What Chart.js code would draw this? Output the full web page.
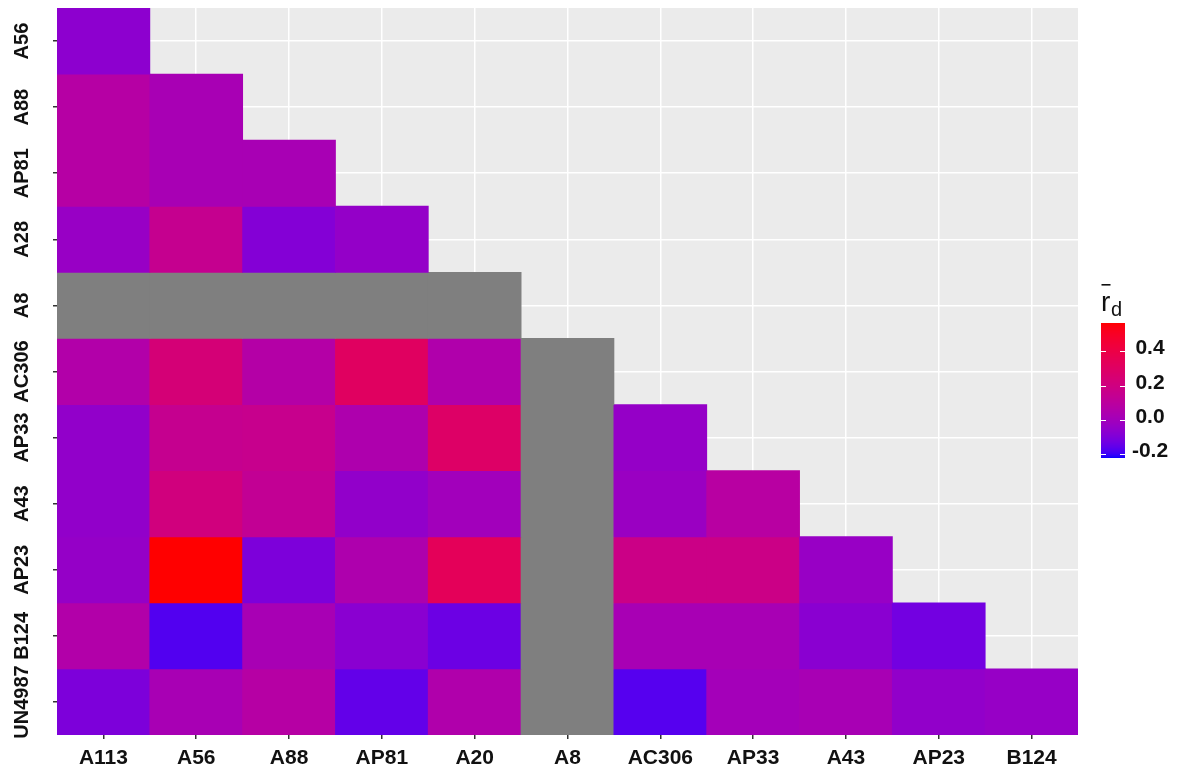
<!DOCTYPE html>
<html>
<head>
<meta charset="utf-8">
<script src="https://cdn.jsdelivr.net/npm/chart.js@4/dist/chart.umd.min.js"></script>
<style>
  html, body { margin: 0; padding: 0; background: #ffffff; }
  #wrap { width: 1181px; height: 774px; }
</style>
</head>
<body>
<div id="wrap"><canvas id="heat" width="1181" height="774"></canvas></div>
<script>
// Column (x) and row (y) categories of the lower-triangular matrix
const xLabels = ['A113', 'A56', 'A88', 'AP81', 'A20', 'A8', 'AC306', 'AP33', 'A43', 'AP23', 'B124'];
const yLabels = ['A56', 'A88', 'AP81', 'A28', 'A8', 'AC306', 'AP33', 'A43', 'AP23', 'B124', 'UN4987'];

// Mean index of association per pair; null = not available (drawn grey)
const rowA56    = [-0.065];
const rowA88    = [0.077, 0.022];
const rowAP81   = [0.077, 0.022, 0.022];
const rowA28    = [-0.033, 0.147, -0.088, -0.045];
const rowA8     = [null, null, null, null, null];
const rowAC306  = [0.061, 0.234, 0.069, 0.312, 0.053, null];
const rowAP33   = [-0.049, 0.147, 0.155, 0.045, 0.289, null, -0.041];
const rowA43    = [-0.049, 0.210, 0.132, -0.049, -0.002, null, -0.025, 0.085];
const rowAP23   = [-0.041, 0.564, -0.104, 0.045, 0.336, null, 0.180, 0.180, -0.033];
const rowB124   = [0.061, -0.175, 0.022, -0.073, -0.136, null, 0.022, 0.022, -0.073, -0.124];
const rowUN4987 = [-0.104, 0.022, 0.077, -0.151, 0.053, null, -0.170, 0.006, 0.022, -0.049, -0.037];

const rows = [rowA56, rowA88, rowAP81, rowA28, rowA8, rowAC306, rowAP33, rowA43, rowAP23, rowB124, rowUN4987];

// Colour bar limits and ticks
const scaleLimits = [-0.222, 0.564];
const legendTicks = [-0.2, 0.0, 0.2, 0.4];
const legendTickLabels = ['-0.2', '0.0', '0.2', '0.4'];

const LOW = [0, 0, 255];
const HIGH = [255, 0, 0];
const NA_COLOR = '#7f7f7f';

// --- Lab colour interpolation (blue -> red) ---
function toLinear(c) { c /= 255; return c <= 0.04045 ? c / 12.92 : Math.pow((c + 0.055) / 1.055, 2.4); }
function toSrgb(c) {
  c = Math.max(0, Math.min(1, c));
  const v = c <= 0.0031308 ? 12.92 * c : 1.055 * Math.pow(c, 1 / 2.4) - 0.055;
  return Math.round(Math.max(0, Math.min(1, v)) * 255);
}
const WX = 0.95047, WY = 1.0, WZ = 1.08883;
function fLab(t) { return t > 0.008856 ? Math.cbrt(t) : 7.787 * t + 16 / 116; }
function fInv(t) { const t3 = t * t * t; return t3 > 0.008856 ? t3 : (t - 16 / 116) / 7.787; }
function rgbToLab(rgb) {
  const r = toLinear(rgb[0]), g = toLinear(rgb[1]), b = toLinear(rgb[2]);
  const X = (0.4124 * r + 0.3576 * g + 0.1805 * b) / WX;
  const Y = (0.2126 * r + 0.7152 * g + 0.0722 * b) / WY;
  const Z = (0.0193 * r + 0.1192 * g + 0.9505 * b) / WZ;
  const fx = fLab(X), fy = fLab(Y), fz = fLab(Z);
  return [116 * fy - 16, 500 * (fx - fy), 200 * (fy - fz)];
}
function labToRgb(lab) {
  const fy = (lab[0] + 16) / 116, fx = fy + lab[1] / 500, fz = fy - lab[2] / 200;
  const X = fInv(fx) * WX, Y = fInv(fy) * WY, Z = fInv(fz) * WZ;
  const r = 3.2406 * X - 1.5372 * Y - 0.4986 * Z;
  const g = -0.9689 * X + 1.8758 * Y + 0.0415 * Z;
  const b = 0.0557 * X - 0.2040 * Y + 1.0570 * Z;
  return [toSrgb(r), toSrgb(g), toSrgb(b)];
}
const LAB_LOW = rgbToLab(LOW), LAB_HIGH = rgbToLab(HIGH);
function fillFor(v) {
  if (v === null || v === undefined) return NA_COLOR;
  let t = (v - scaleLimits[0]) / (scaleLimits[1] - scaleLimits[0]);
  t = Math.max(0, Math.min(1, t));
  const lab = [0, 1, 2].map(k => LAB_LOW[k] + (LAB_HIGH[k] - LAB_LOW[k]) * t);
  const c = labToRgb(lab);
  return 'rgb(' + c[0] + ',' + c[1] + ',' + c[2] + ')';
}

// One floating-bar dataset per row; each bar spans one row band on the y scale
const datasets = rows.map((vals, i) => ({
  label: yLabels[i],
  data: xLabels.map((_, j) => (j < vals.length ? [i - 0.5, i + 0.5] : null)),
  backgroundColor: xLabels.map((_, j) => (j < vals.length ? fillFor(vals[j]) : 'rgba(0,0,0,0)')),
  borderWidth: 0,
  borderSkipped: false,
  grouped: false,
  barPercentage: 1,
  categoryPercentage: 1,
  inflateAmount: 0.4
}));

const FONT = "'Liberation Sans', Arial, sans-serif";

const panelBackground = {
  id: 'panelBackground',
  beforeDraw(chart) {
    const { ctx, chartArea: a } = chart;
    ctx.save();
    ctx.fillStyle = '#ebebeb';
    ctx.fillRect(a.left, a.top, a.right - a.left, a.bottom - a.top);
    ctx.restore();
  }
};

const rowLabels = {
  id: 'rowLabels',
  afterDraw(chart) {
    const { ctx } = chart;
    const ys = chart.scales.y;
    ctx.save();
    ctx.fillStyle = '#111111';
    ctx.font = 'bold 20px ' + FONT;
    ctx.textAlign = 'center';
    ctx.textBaseline = 'middle';
    yLabels.forEach((lab, i) => {
      const y = ys.getPixelForValue(i);
      ctx.save();
      ctx.translate(22, y);
      ctx.rotate(-Math.PI / 2);
      ctx.fillText(lab, 0, 0);
      ctx.restore();
    });
    ctx.restore();
  }
};

const colourBar = {
  id: 'colourBar',
  afterDraw(chart) {
    const { ctx } = chart;
    const left = 1101, right = 1125, top = 323, bottom = 458;
    const [lo, hi] = scaleLimits;
    const yFor = v => top + (hi - v) / (hi - lo) * (bottom - top);
    ctx.save();
    for (let y = top; y < bottom; y++) {
      const v = hi - (y + 0.5 - top) / (bottom - top) * (hi - lo);
      ctx.fillStyle = fillFor(v);
      ctx.fillRect(left, y, right - left, 1);
    }
    ctx.strokeStyle = '#ffffff';
    ctx.lineWidth = 1.2;
    ctx.fillStyle = '#111111';
    ctx.font = 'bold 21px ' + FONT;
    ctx.textAlign = 'center';
    ctx.textBaseline = 'middle';
    legendTicks.forEach((v, k) => {
      const y = Math.round(yFor(v)) + 0.5;
      ctx.beginPath();
      ctx.moveTo(left, y); ctx.lineTo(left + 5, y);
      ctx.moveTo(right - 5, y); ctx.lineTo(right, y);
      ctx.stroke();
      ctx.fillText(legendTickLabels[k], 1150, y - 3);
    });
    // title: r with overline, subscript d
    ctx.fillStyle = '#111111';
    ctx.textAlign = 'left';
    ctx.font = '28px ' + FONT;
    ctx.textBaseline = 'alphabetic';
    ctx.fillText('r', 1101, 311);
    ctx.fillRect(1101.5, 284, 9, 1.6);
    ctx.font = '20px ' + FONT;
    ctx.fillText('d', 1111, 316);
    ctx.restore();
  }
};

new Chart(document.getElementById('heat'), {
  type: 'bar',
  data: { labels: xLabels, datasets },
  options: {
    responsive: false,
    animation: false,
    devicePixelRatio: 1,
    layout: { padding: { top: 8, right: 103, left: 0, bottom: 0 } },
    plugins: { legend: { display: false }, tooltip: { enabled: false } },
    scales: {
      x: {
        type: 'category',
        offset: true,
        border: { display: false },
        grid: { offset: false, color: '#ffffff', lineWidth: 1.5, tickColor: '#333333', tickLength: 4, drawTicks: true },
        ticks: { color: '#111111', font: { family: FONT, weight: 'bold', size: 21 }, padding: 7, maxRotation: 0, minRotation: 0, autoSkip: false },
        afterFit(scale) { scale.height = 39; }
      },
      y: {
        type: 'linear',
        min: -0.5,
        max: 10.5,
        reverse: true,
        border: { display: false },
        grid: { color: '#ffffff', lineWidth: 1.5, tickColor: '#333333', tickLength: 4, drawTicks: true },
        ticks: { display: false },
        afterBuildTicks(scale) { scale.ticks = yLabels.map((_, i) => ({ value: i })); },
        afterFit(scale) { scale.width = 57; }
      }
    }
  },
  plugins: [panelBackground, rowLabels, colourBar]
});
</script>
</body>
</html>
